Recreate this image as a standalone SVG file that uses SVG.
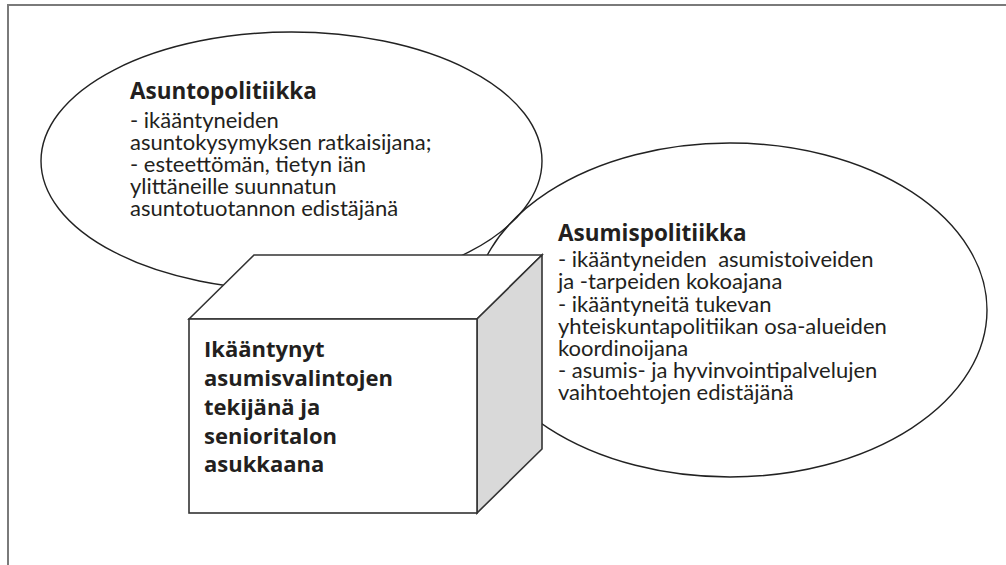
<svg xmlns="http://www.w3.org/2000/svg" width="1006" height="565" viewBox="0 0 1006 565">
<style>
.frame{fill:none;stroke:#7a7a7a;stroke-width:2}
.ell{fill:none;stroke:#222;stroke-width:1.4}
.cube{stroke:#333;stroke-width:1.6;stroke-linejoin:miter}
.t{font-family:Lato,"Open Sans",sans-serif;fill:#231f20}
.body{font-size:22px}
.title{font-family:"Open Sans",Lato,sans-serif;font-size:22.5px;font-weight:bold}
.cubet{font-family:"Open Sans",Lato,sans-serif;font-size:22px;font-weight:bold}
</style>
<rect class="frame" x="8" y="5" width="1010" height="575"/>
<g id="connectors"></g>
<g id="asuntopolitiikka">
<ellipse class="ell" cx="291.5" cy="161" rx="250.5" ry="129"/>
<text class="t title" x="130" y="99">Asuntopolitiikka</text>
<text class="t body" x="130" y="128">- ikääntyneiden</text>
<text class="t body" x="130" y="150">asuntokysymyksen ratkaisijana;</text>
<text class="t body" x="130" y="172">- esteettömän, tietyn iän</text>
<text class="t body" x="130" y="194">ylittäneille suunnatun</text>
<text class="t body" x="130" y="216">asuntotuotannon edistäjänä</text>
</g>
<g id="asumispolitiikka">
<ellipse class="ell" cx="730" cy="310" rx="257" ry="167"/>
<text class="t title" x="558" y="241">Asumispolitiikka</text>
<text class="t body" x="558" y="267" xml:space="preserve">- ikääntyneiden  asumistoiveiden</text>
<text class="t body" x="558" y="289">ja -tarpeiden kokoajana</text>
<text class="t body" x="558" y="312">- ikääntyneitä tukevan</text>
<text class="t body" x="558" y="334">yhteiskuntapolitiikan osa-alueiden</text>
<text class="t body" x="558" y="356">koordinoijana</text>
<text class="t body" x="558" y="378">- asumis- ja hyvinvointipalvelujen</text>
<text class="t body" x="558" y="400">vaihtoehtojen edistäjänä</text>
</g>
<g id="ikaantynyt">
<polygon class="cube" fill="#ffffff" points="189,319 254,255 542,255 477,319"/>
<polygon class="cube" fill="#d9d9d9" points="477,319 542,255 542,449 477,513"/>
<rect class="cube" fill="#ffffff" x="189" y="319" width="288" height="194"/>
<text class="t cubet" x="204" y="357">Ikääntynyt</text>
<text class="t cubet" x="204" y="386">asumisvalintojen</text>
<text class="t cubet" x="204" y="415">tekijänä ja</text>
<text class="t cubet" x="204" y="444">senioritalon</text>
<text class="t cubet" x="204" y="472">asukkaana</text>
</g>
</svg>
